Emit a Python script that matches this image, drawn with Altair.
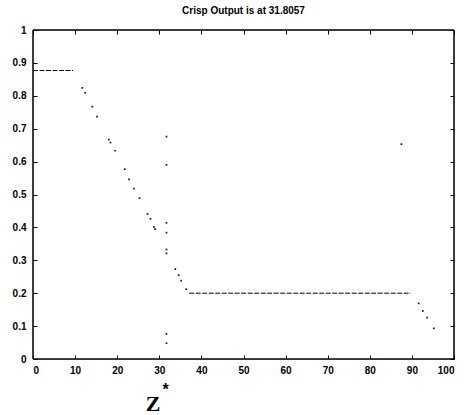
import altair as alt
import pandas as pd

# dotted samples of the output membership curve
dot_x = [11.7, 12.4, 14.1, 15.2, 18.0, 18.4, 19.5, 21.8, 22.8, 24.0, 25.3, 27.2, 27.9,
         28.7, 29.0, 33.8, 34.6, 35.2, 36.4, 91.6, 92.6, 93.6, 95.2, 87.5,
         31.7, 31.7, 31.7, 31.7, 31.7, 31.7, 31.7, 31.7]
dot_y = [0.824, 0.809, 0.767, 0.737, 0.667, 0.658, 0.633, 0.577, 0.546, 0.518, 0.489, 0.441, 0.426,
         0.401, 0.395, 0.273, 0.255, 0.238, 0.212, 0.169, 0.146, 0.126, 0.093, 0.653,
         0.676, 0.590, 0.414, 0.384, 0.333, 0.321, 0.076, 0.048]

# dashed plateau segments
seg_id = ["a", "a", "b", "b"]
seg_x = [0, 9.5, 37.1, 89.7]
seg_y = [0.877, 0.877, 0.2, 0.2]

x_ticks = [0, 10, 20, 30, 40, 50, 60, 70, 80, 90, 100]
y_ticks = [0, 0.1, 0.2, 0.3, 0.4, 0.5, 0.6, 0.7, 0.8, 0.9, 1]

# box edges (bottom, top, left, right), in data units
edge_x = [0, 0, 0, 100]
edge_x2 = [100, 100, 0, 100]
edge_y = [0, 1, 0, 0]
edge_y2 = [0, 1, 1, 1]

z_label_x = [28.5]
star_x = [31.5]

W, H = 421, 329

dots = pd.DataFrame({"x": dot_x, "y": dot_y})
segs = pd.DataFrame({"id": seg_id, "x": seg_x, "y": seg_y})
edges = pd.DataFrame({"x": edge_x, "x2": edge_x2, "y": edge_y, "y2": edge_y2})

xs = alt.Scale(domain=[0, 100], nice=False, zero=False)
ys = alt.Scale(domain=[0, 1], nice=False, zero=False)

ax_common = dict(grid=False, domain=False, tickSize=4, offset=-4, tickColor="black",
                 tickWidth=1)

x_bottom = alt.Axis(values=x_ticks, labelPadding=6, labelFont="Liberation Sans",
                    labelFontWeight="bold", labelFontSize=10, labelColor="black",
                    title=None, **ax_common)
y_left = alt.Axis(values=y_ticks, format=".1~f", labelPadding=7, labelFont="Liberation Sans",
                  labelFontWeight="bold", labelFontSize=10, labelColor="black",
                  title=None, **ax_common)
x_top = alt.Axis(values=x_ticks, orient="top", labels=False, title=None, **ax_common)
y_right = alt.Axis(values=y_ticks, orient="right", labels=False, title=None, **ax_common)

pts = alt.Chart(dots).mark_square(size=3, color="black", opacity=0.9).encode(
    x=alt.X("x:Q", scale=xs, axis=x_bottom),
    y=alt.Y("y:Q", scale=ys, axis=y_left),
)

# frame lines
frame = alt.Chart(edges).mark_rule(color="black", strokeWidth=1.5).encode(
    x=alt.X("x:Q", scale=xs, axis=None), x2="x2:Q",
    y=alt.Y("y:Q", scale=ys, axis=None), y2="y2:Q",
)

lines = alt.Chart(segs).mark_line(color="black", strokeWidth=1, strokeDash=[5, 1.5]).encode(
    x=alt.X("x:Q", scale=xs, axis=x_top),
    y=alt.Y("y:Q", scale=ys, axis=y_right),
    detail="id:N",
)

zdf = pd.DataFrame({"x": z_label_x, "t": ["Z"]})
sdf = pd.DataFrame({"x": star_x, "t": ["*"]})

ztext = alt.Chart(zdf).mark_text(font="Liberation Serif", fontWeight="bold", fontSize=22,
                                 color="black", baseline="middle", align="center").encode(
    x=alt.X("x:Q", scale=xs, axis=None),
    y=alt.value(H + 45),
    text="t:N",
)
stext = alt.Chart(sdf).mark_text(font="Liberation Sans", fontWeight="bold", fontSize=16,
                                 color="black", baseline="middle", align="center").encode(
    x=alt.X("x:Q", scale=xs, axis=None),
    y=alt.value(H + 31),
    text="t:N",
)

chart = alt.layer(pts, frame, lines, ztext, stext).resolve_axis(
    x="independent", y="independent").properties(
    width=W, height=H,
    background="white",
    title=alt.TitleParams("Crisp Output is at 31.8057", font="Liberation Sans", fontWeight="bold",
                          fontSize=10, color="black", offset=9, anchor="middle"),
    autosize=alt.AutoSizeParams(type="none"),
    padding={"left": 33, "top": 30, "right": 10, "bottom": 56},
)

chart.save("out.html", embed_options={"renderer": "svg", "actions": False})
